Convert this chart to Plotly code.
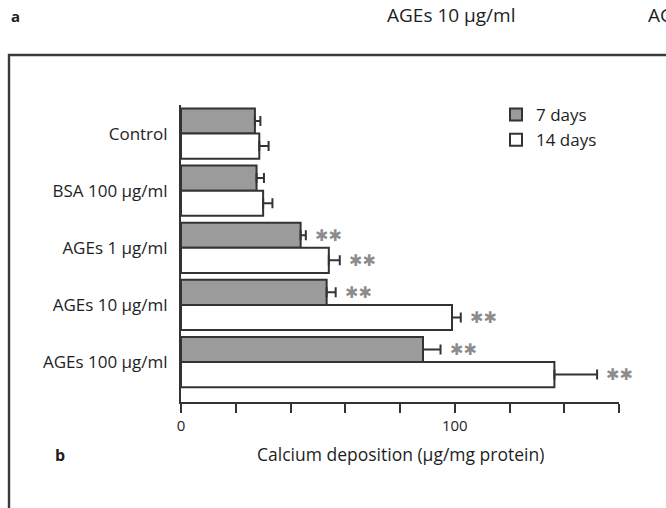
import plotly.graph_objects as go

# Calcium deposition by treatment, 7 and 14 days of culture
categories = ["Control", "BSA 100 μg/ml", "AGEs 1 μg/ml", "AGEs 10 μg/ml", "AGEs 100 μg/ml"]
day7_values = [27.0, 27.6, 43.7, 53.2, 88.4]
day7_errors = [2.0, 2.7, 1.9, 3.3, 6.4]
day14_values = [28.6, 30.0, 54.0, 99.0, 136.4]
day14_errors = [3.4, 3.4, 4.0, 3.2, 15.6]
day7_marks = ["", "", "**", "**", "**"]
day14_marks = ["", "", "**", "**", "**"]
x_ticks = [0, 20, 40, 60, 80, 100, 120, 140, 160]
x_tick_text = ["0", "", "", "", "", "100", "", "", ""]

W, H = 666, 508
L, R, T, B = 181, 619, 105, 402  # plot area in pixels
FONT = "Open Sans, DejaVu Sans, sans-serif"
INK = "#333333"
TEXT = "#1e1e1e"


def px_x(p):
    return (p - L) / (R - L)


def px_y(p):
    return (B - p) / (B - T)


positions = list(range(len(categories)))

fig = go.Figure()
fig.add_trace(go.Bar(
    name="7 days", y=positions, x=day7_values, orientation="h",
    marker=dict(color="#9b9b9b", line=dict(color=INK, width=2)),
    error_x=dict(type="data", array=day7_errors, arrayminus=[0] * len(day7_errors),
                 symmetric=False, thickness=2, width=5, color=INK),
    legendgroup="d7",
))
fig.add_trace(go.Bar(
    name="14 days", y=positions, x=day14_values, orientation="h",
    marker=dict(color="white", line=dict(color=INK, width=2)),
    error_x=dict(type="data", array=day14_errors, arrayminus=[0] * len(day14_errors),
                 symmetric=False, thickness=2, width=5, color=INK),
    legendgroup="d14",
))

# significance stars just right of each error bar
group_width = 0.88
half = group_width / 4
star_font = dict(family="DejaVu Sans", size=16, color="#8c8c8c")
annotations = []
for i, (v, e, m) in enumerate(zip(day7_values, day7_errors, day7_marks)):
    if m:
        annotations.append(dict(x=v + e, y=i - half, xref="x", yref="y", text="✱✱",
                                showarrow=False, xanchor="left", xshift=7, font=star_font))
for i, (v, e, m) in enumerate(zip(day14_values, day14_errors, day14_marks)):
    if m:
        annotations.append(dict(x=v + e, y=i + half, xref="x", yref="y", text="✱✱",
                                showarrow=False, xanchor="left", xshift=7, font=star_font))

# panel letters, headings and axis caption
annotations += [
    dict(x=px_x(15), y=px_y(16), xref="paper", yref="paper", text="<b>a</b>",
         showarrow=False, xanchor="center", yanchor="middle",
         font=dict(family=FONT, size=15, color=TEXT)),
    dict(x=px_x(385), y=px_y(15), xref="paper", yref="paper", text="AGEs 10 μg/ml",
         showarrow=False, xanchor="left", yanchor="middle",
         font=dict(family=FONT, size=19, color=TEXT)),
    dict(x=px_x(646), y=px_y(15), xref="paper", yref="paper", text="AGEs 100 μg/ml",
         showarrow=False, xanchor="left", yanchor="middle",
         font=dict(family=FONT, size=19, color=TEXT)),
    dict(x=px_x(60), y=px_y(455), xref="paper", yref="paper", text="<b>b</b>",
         showarrow=False, xanchor="center", yanchor="middle",
         font=dict(family=FONT, size=16, color=TEXT)),
    dict(x=0.5, y=px_y(454), xref="paper", yref="paper",
         text="Calcium deposition (μg/mg protein)",
         showarrow=False, xanchor="center", yanchor="middle",
         font=dict(family=FONT, size=17.5, color=TEXT)),
]

# outer frame of panel b (runs past the right and bottom edges)
shapes = [dict(type="rect", xref="paper", yref="paper",
               x0=px_x(9), x1=px_x(720), y0=px_y(560), y1=px_y(55),
               line=dict(color="#3a3a3a", width=2.4), fillcolor="rgba(0,0,0,0)", layer="below")]

fig.update_layout(
    width=W, height=H,
    margin=dict(l=L, r=W - R, t=T, b=H - B, pad=0),
    paper_bgcolor="white", plot_bgcolor="white",
    barmode="group", bargap=1 - group_width, bargroupgap=0,
    font=dict(family=FONT, size=17, color=TEXT),
    showlegend=True,
    legend=dict(x=px_x(496), y=px_y(97), xanchor="left", yanchor="top",
                bgcolor="rgba(0,0,0,0)", font=dict(family=FONT, size=17, color=TEXT),
                traceorder="normal", tracegroupgap=7),
    annotations=annotations,
    shapes=shapes,
)
fig.update_xaxes(range=[0, 160], tickvals=x_ticks, ticktext=x_tick_text,
                 showline=True, linecolor=INK, linewidth=2,
                 ticks="outside", ticklen=9, tickwidth=2, tickcolor=INK,
                 showgrid=False, zeroline=False,
                 tickfont=dict(family=FONT, size=15, color=TEXT))
fig.update_yaxes(range=[4.70, -0.50], tickvals=positions, ticktext=categories,
                 showline=True, linecolor=INK, linewidth=2, ticks="",
                 showgrid=False, zeroline=False, ticklabelstandoff=8,
                 tickfont=dict(family=FONT, size=17, color=TEXT))

fig.write_html("out.html")
